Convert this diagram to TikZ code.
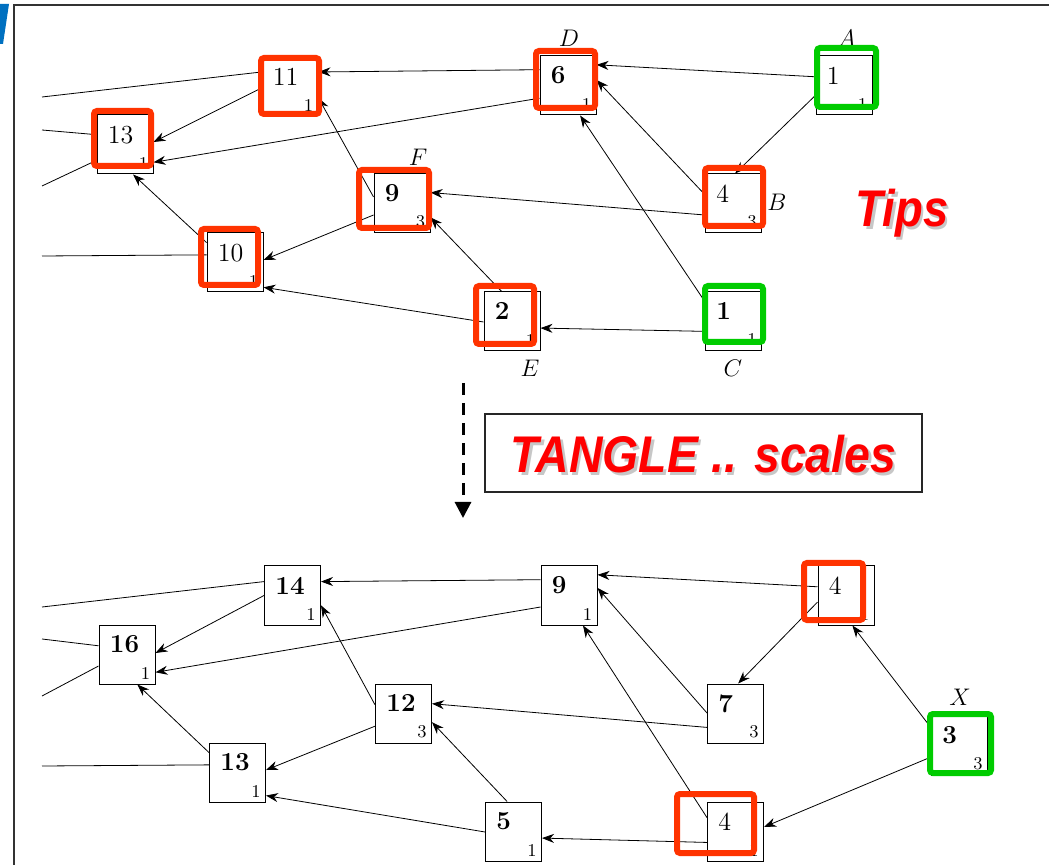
\documentclass[tikz,border=0pt]{standalone}
\usepackage{fontspec}
\usepackage{xcolor}
\usepackage{tikz}
\usetikzlibrary{arrows.meta}

\newfontfamily\bannerfont{Liberation Sans}
\definecolor{hlred}{RGB}{255,51,0}
\definecolor{hlgreen}{RGB}{0,204,0}
\definecolor{bannerred}{RGB}{255,0,0}
\definecolor{logoblue}{RGB}{0,112,192}

\begin{document}
\begin{tikzpicture}[
  x=0.5pt, y=-0.5pt,
  vtx/.style={draw, fill=white, line width=0.5pt, minimum width=28pt, minimum height=29.5pt, inner sep=0pt},
  num/.style={anchor=north west, inner sep=0pt, xshift=5.5pt, yshift=-5.5pt, font=\fontsize{13}{15}\selectfont},
  cnt/.style={anchor=south east, inner sep=0pt, xshift=-2.5pt, yshift=2.5pt, font=\small},
  tag/.style={font=\fontsize{12.5}{14}\selectfont},
  edge/.style={-{Stealth[length=6pt, width=4.5pt]}, line width=0.4pt},
  tail/.style={line width=0.4pt},
  hlred/.style={draw=hlred, line width=3pt, rounded corners=1.5pt},
  hlgreen/.style={draw=hlgreen, line width=3pt, rounded corners=1.5pt},
  banner/.style={font=\bannerfont\bfseries\itshape\fontsize{25.8}{30}\selectfont, text=bannerred, inner sep=0pt},
  bshadow/.style={banner, text=black!22},
  flow/.style={-{Triangle[width=8pt, length=8pt]}, line width=1.5pt, dash pattern=on 6pt off 4pt}
]
\useasboundingbox (0,0) rectangle (1049,865);

% slide frame
\fill[logoblue] (0,4) -- (9,4) -- (3,44) -- (0,44) -- cycle;
\draw[line width=1pt, black!80] (14,865) -- (14,5) -- (1049,5);

% tips
\node[vtx, label={[num]north west:13}, label={[cnt]south east:1}] (t13) at (125,144.5) {};
\node[vtx, label={[num]north west:11}, label={[cnt]south east:1}] (t11) at (290,86.5) {};
\node[vtx, label={[num]north west:10}, label={[cnt]south east:1}] (t10) at (235,262.5) {};
\node[vtx, label={[num]north west:\textbf{6}}, label={[cnt]south east:1}] (t6) at (568,85.5) {};
\node[vtx, label={[num]north west:\textbf{9}}, label={[cnt]south east:3}] (t9) at (402,203.5) {};
\node[vtx, label={[num]north west:\textbf{2}}, label={[cnt]south east:1}] (tE) at (512,321.5) {};
\node[vtx, label={[num]north west:1}, label={[cnt]south east:1}] (tA) at (844,85.5) {};
\node[vtx, label={[num]north west:4}, label={[cnt]south east:3}] (tB) at (733.5,203.5) {};
\node[vtx, label={[num]north west:\textbf{1}}, label={[cnt]south east:1}] (tC) at (733.5,321) {};

\node[tag] (lD) at (569,38) {$D$};
\node[tag] (lA) at (847,38) {$A$};
\node[tag] (lF) at (418,157) {$F$};
\node[tag] (lB) at (777,202) {$B$};
\node[tag] (lE) at (530,368) {$E$};
\node[tag] (lC) at (733,368) {$C$};

\coordinate (o1) at (42,97);
\coordinate (o2) at (42,130);
\coordinate (o3) at (42,186);
\coordinate (o4) at (42,256);

\draw[edge] (tA.163) -- (t6.36);
\draw[edge] (tA.199) -- (tB.87);
\draw[edge] (tB.163) -- (t6.11);
\draw[edge] (tB.202) -- (t9.21);
\draw[edge] (tC.146) -- (t6.292);
\draw[edge] (tC.200) -- (tE.347);
\draw[edge] (t6.151) -- (t11.27);
\draw[edge] (t6.204) -- (t13.328);
\draw[edge] (t9.167) -- (t11.338);
\draw[edge] (t9.202) -- (t10.5);
\draw[edge] (tE.109) -- (t9.334);
\draw[edge] (tE.181) -- (t10.319);
\draw[edge] (t11.183) -- (t13.5);
\draw[edge] (t10.145) -- (t13.285);
\draw[tail] (t11.153) -- (o1);
\draw[tail] (t13.161) -- (o2);
\draw[tail] (t13.209) -- (o3);
\draw[tail] (t10.165) -- (o4);

\draw[hlred] (94,111) rectangle (151,166);
\draw[hlred] (261,58) rectangle (319,114);
\draw[hlred] (201,229) rectangle (258,285);
\draw[hlred] (536,51) rectangle (595,108);
\draw[hlred] (359,170) rectangle (429,228);
\draw[hlred] (705,168) rectangle (763,226);
\draw[hlred] (476,286) rectangle (534,344);
\draw[hlgreen] (817,48) rectangle (876,107);
\draw[hlgreen] (705,286) rectangle (763,342);

\node[bshadow, anchor=base] (tipsshadow) at (904.5,229.5) {\scalebox{0.88}[1]{Tips}};
\node[banner, anchor=base] (tips) at (902,227) {\scalebox{0.88}[1]{Tips}};

% step between the two graphs
\coordinate (dtop) at (463,383);
\coordinate (dbot) at (463,518);
\draw[flow] (dtop) -- (dbot);

\node[draw, line width=1pt, black!85, minimum width=218.5pt, minimum height=39pt] (tanglebox) at (703.5,453) {};
\node[bshadow, anchor=base] (tangleshadow) at (706,475.5) {\scalebox{0.9}[1]{TANGLE .. scales}};
\node[banner, anchor=base] (tangle) at (703.5,473) {\scalebox{0.9}[1]{TANGLE .. scales}};

% after the step
\node[vtx, label={[num]north west:\textbf{14}}, label={[cnt]south east:1}] (b14) at (292.5,595.5) {};
\node[vtx, label={[num]north west:\textbf{16}}, label={[cnt]south east:1}] (b16) at (127,654.5) {};
\node[vtx, label={[num]north west:\textbf{13}}, label={[cnt]south east:1}] (b13) at (237.5,772.5) {};
\node[vtx, label={[num]north west:\textbf{9}}, label={[cnt]south east:1}] (b9) at (569,595.5) {};
\node[vtx, label={[num]north west:\textbf{12}}, label={[cnt]south east:3}] (b12) at (403.5,713.5) {};
\node[vtx, label={[num]north west:\textbf{5}}, label={[cnt]south east:1}] (b5) at (513.5,831.5) {};
\node[vtx, label={[num]north west:4}, label={[cnt]south east:1}] (b4a) at (846,595.5) {};
\node[vtx, label={[num]north west:\textbf{7}}, label={[cnt]south east:3}] (b7) at (735.5,713.5) {};
\node[vtx, label={[num]north west:\textbf{3}}, label={[cnt]south east:3}] (bX) at (959.5,745.5) {};
\node[vtx, label={[num]north west:4}, label={[cnt]south east:1}] (b4b) at (735.5,831.5) {};

\node[tag] (lX) at (960,697) {$X$};

\coordinate (p1) at (42,607);
\coordinate (p2) at (42,639);
\coordinate (p3) at (42,696);
\coordinate (p4) at (42,766);

\draw[edge] (b4a.163) -- (b9.36);
\draw[edge] (b4a.193) -- (b7.85);
\draw[edge] (b7.179) -- (b9.15);
\draw[edge] (b7.206) -- (b12.19);
\draw[edge] (b4b.154) -- (b9.295);
\draw[edge] (b4b.201) -- (b5.347);
\draw[edge] (bX.148) -- (b4a.282);
\draw[edge] (bX.202) -- (b4b.9);
\draw[edge] (b9.151) -- (b14.26);
\draw[edge] (b9.202) -- (b16.328);
\draw[edge] (b12.163) -- (b14.341);
\draw[edge] (b12.204) -- (b13.5);
\draw[edge] (b5.102) -- (b12.343);
\draw[edge] (b5.181) -- (b13.321);
\draw[edge] (b14.180) -- (b16.3);
\draw[edge] (b13.145) -- (b16.289);
\draw[tail] (b14.154) -- (p1);
\draw[tail] (b16.163) -- (p2);
\draw[tail] (b16.202) -- (p3);
\draw[tail] (b13.165) -- (p4);

\draw[hlred] (804,563) rectangle (863,620);
\draw[hlred] (677,794) rectangle (754,853);
\draw[hlgreen] (930,714) rectangle (991,773);

\end{tikzpicture}
\end{document}
